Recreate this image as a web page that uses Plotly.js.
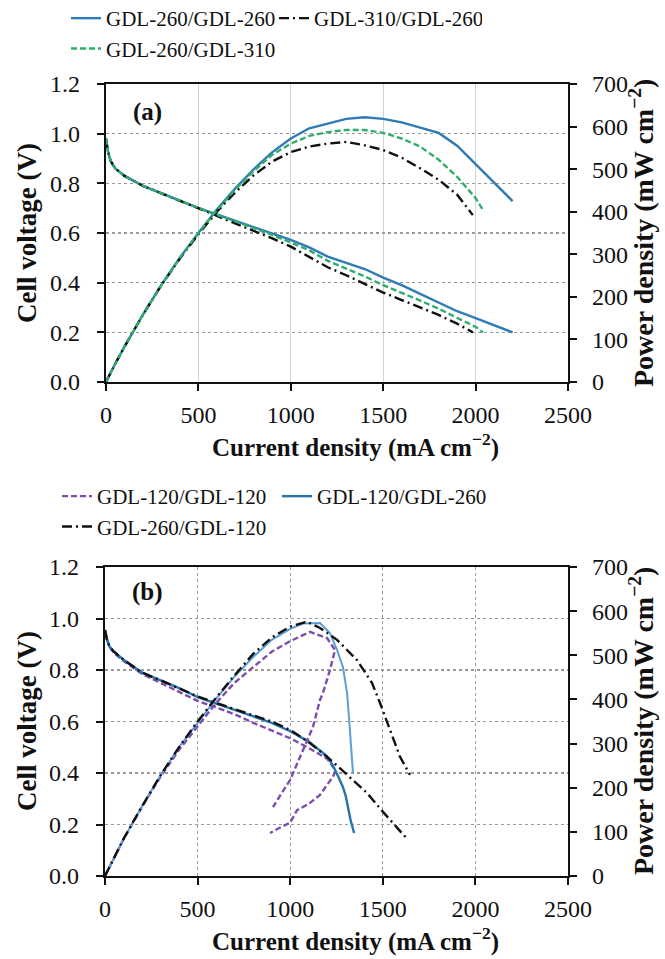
<!DOCTYPE html>
<html>
<head>
<meta charset="utf-8">
<script src="https://cdn.plot.ly/plotly-3.0.1.min.js"></script>
<style>
html,body{margin:0;padding:0;background:#fff;}
#chart{width:665px;height:959px;}
</style>
</head>
<body>
<div id="chart"></div>
<script>
// ---------- Panel (a) data ----------
const namesA = ['GDL-260/GDL-260', 'GDL-310/GDL-260', 'GDL-260/GDL-310'];
const xA1 = [0,10,25,50,100,200,300,400,500,600,700,800,900,1000,1100,1200,1300,1400,1500,1600,1700,1800,1900,2000,2100,2200];
const vA1 = [0.98,0.93,0.89,0.86,0.83,0.79,0.76,0.73,0.70,0.675,0.65,0.625,0.60,0.572,0.542,0.505,0.48,0.455,0.42,0.39,0.355,0.32,0.285,0.257,0.228,0.20];
const pA1 = [0,9,22,43,83,158,228,292,350,405,455,500,540,572,596,607,618,622,618,610,598,585,555,512,470,425];
const xA2 = [0,10,25,50,100,200,300,400,500,600,700,800,900,1000,1100,1200,1300,1400,1500,1600,1700,1800,1900,1985];
const vA2 = [0.98,0.93,0.89,0.86,0.83,0.79,0.76,0.73,0.70,0.67,0.64,0.61,0.578,0.545,0.505,0.462,0.43,0.395,0.36,0.33,0.30,0.27,0.235,0.20];
const pA2 = [0,9,22,43,83,158,228,290,347,400,446,486,518,540,553,560,564,556,545,527,502,475,440,392];
const xA3 = [0,10,25,50,100,200,300,400,500,600,700,800,900,1000,1100,1200,1300,1400,1500,1600,1700,1800,1900,2000,2040];
const vA3 = [0.98,0.93,0.89,0.86,0.83,0.79,0.76,0.73,0.70,0.673,0.647,0.62,0.592,0.562,0.53,0.488,0.458,0.425,0.39,0.36,0.328,0.295,0.26,0.222,0.20];
const pA3 = [0,9,22,43,83,158,228,292,350,404,452,496,534,560,578,587,592,592,585,572,553,522,482,432,404];

// ---------- Panel (b) data ----------
const namesB = ['GDL-120/GDL-120', 'GDL-120/GDL-260', 'GDL-260/GDL-120'];
const xB1 = [0,10,25,50,100,200,300,400,500,600,700,800,900,1000,1100,1200,1245,1231,1200,1161,1100,1037,999,950,891];
const vB1 = [0.955,0.92,0.89,0.865,0.835,0.785,0.75,0.715,0.68,0.655,0.628,0.595,0.565,0.535,0.497,0.455,0.41,0.385,0.355,0.315,0.28,0.256,0.206,0.19,0.167];
const xB1p = [0,100,200,300,400,500,600,700,800,900,1000,1107,1199,1242,1215,1177,1161,1123,1069,999,950,907];
const pB1 = [0,83,157,225,286,340,392,438,472,508,532,553,539,512,467,415,399,338,285,217,185,156];
const xB2 = [0,10,25,50,100,200,300,400,500,600,700,800,900,1000,1100,1200,1230,1260,1285,1300,1312,1325,1345];
const vB2 = [0.955,0.92,0.89,0.87,0.84,0.79,0.76,0.73,0.695,0.67,0.645,0.62,0.595,0.562,0.522,0.465,0.43,0.385,0.345,0.31,0.26,0.22,0.167];
const xB2p = [0,100,200,300,400,500,600,700,800,900,1000,1069,1161,1215,1253,1285,1307,1320,1330,1339];
const pB2 = [0,84,158,228,292,348,402,452,496,535,560,572,573,550,512,473,415,345,290,233];
const xB3 = [0,10,25,50,100,200,300,400,500,600,700,800,900,1000,1107,1231,1323,1415,1501,1577,1636];
const vB3 = [0.955,0.92,0.89,0.87,0.84,0.79,0.76,0.73,0.697,0.672,0.648,0.625,0.60,0.567,0.516,0.443,0.381,0.322,0.249,0.19,0.14];
const xB3p = [0,100,200,300,400,500,600,700,800,900,1000,1091,1161,1253,1361,1442,1485,1523,1593,1647];
const pB3 = [0,84,158,228,292,350,404,455,503,540,565,576,562,535,489,437,392,349,270,229];

const xTicks = [0,500,1000,1500,2000,2500];
const vTicks = [0,0.2,0.4,0.6,0.8,1.0,1.2];
const pTicks = [0,100,200,300,400,500,600,700];

// ---------- styles ----------
const BLUE = '#2f7bb5', GREEN = '#2fae6a', BLACK = '#111111', PURPLE = '#7d4dad', LBLUE = '#5b9fd6', DBLUE = '#2674ad';
const DASHDOT = '10px,4px,2px,4px';
const SERIF = '"Liberation Serif", "Times New Roman", serif';

function tr(x, y, name, color, dash, width, xa, ya, legend, show) {
  return {x: x, y: y, name: name, type: 'scatter', mode: 'lines',
    line: {color: color, dash: dash, width: width},
    xaxis: xa, yaxis: ya, legend: legend, showlegend: show, hoverinfo: 'skip'};
}

const data = [
  tr(xA1, vA1, namesA[0], BLUE, 'solid', 2.4, 'x', 'y', 'legend', true),
  tr(xA2, vA2, namesA[1], BLACK, DASHDOT, 2.4, 'x', 'y', 'legend', true),
  tr(xA3, vA3, namesA[2], GREEN, '6px,3px', 2.4, 'x', 'y', 'legend', true),
  tr(xA1, pA1, namesA[0], BLUE, 'solid', 2.4, 'x', 'y2', 'legend', false),
  tr(xA2, pA2, namesA[1], BLACK, DASHDOT, 2.4, 'x', 'y2', 'legend', false),
  tr(xA3, pA3, namesA[2], GREEN, '6px,3px', 2.4, 'x', 'y2', 'legend', false),

  tr(xB1, vB1, namesB[0], PURPLE, '6px,3px', 2.4, 'x2', 'y3', 'legend2', true),
  tr(xB2, vB2, namesB[1], DBLUE, 'solid', 2.4, 'x2', 'y3', 'legend2', true),
  tr(xB3, vB3, namesB[2], BLACK, DASHDOT, 2.4, 'x2', 'y3', 'legend2', true),
  tr(xB1p, pB1, namesB[0], PURPLE, '6px,3px', 2.4, 'x2', 'y4', 'legend2', false),
  tr(xB2p, pB2, namesB[1], LBLUE, 'solid', 2.0, 'x2', 'y4', 'legend2', false),
  tr(xB3p, pB3, namesB[2], BLACK, DASHDOT, 2.4, 'x2', 'y4', 'legend2', false)
];

const W = 665, H = 959, ML = 50, MR = 60;
const PW = W - ML - MR;
const fx = px => (px - ML) / PW;
const fy = py => 1 - py / H;

const tickFont = {family: SERIF, size: 24, color: '#111'};
const xTitle = '<b>Current density (mA cm<sup>−2</sup>)</b>';
const yTitleL = '<b>Cell voltage (V)</b>';
const yTitleR = '<b>Power density (mW cm<sup>−2</sup>)</b>';

function xAxis(domain, anchor, vgridDash, vgridColor) {
  return {domain: domain, anchor: anchor, range: [0, 2500], tickvals: xTicks,
    showline: true, linewidth: 2.2, linecolor: '#111', mirror: true,
    ticks: 'outside', ticklen: 7, tickwidth: 2, tickcolor: '#111', ticklabelstandoff: 3,
    showgrid: true, gridcolor: vgridColor, griddash: vgridDash, gridwidth: 1.4,
    zeroline: false, tickfont: tickFont};
}
function yLeft(domain, anchor) {
  return {domain: domain, anchor: anchor, range: [0, 1.2], tickvals: vTicks, tickformat: '.1f',
    showline: true, linewidth: 2.2, linecolor: '#111',
    ticks: 'outside', ticklen: 7, tickwidth: 2, tickcolor: '#111', ticklabelstandoff: 12,
    showgrid: true, gridcolor: '#9a9a9a', griddash: 'dot', gridwidth: 1.4,
    zeroline: false, tickfont: tickFont};
}
function yRight(overlay, anchor) {
  return {overlaying: overlay, anchor: anchor, side: 'right', range: [0, 700], tickvals: pTicks,
    showline: true, linewidth: 2.2, linecolor: '#111',
    ticks: 'outside', ticklen: 7, tickwidth: 2, tickcolor: '#111', ticklabelstandoff: 10,
    showgrid: false, zeroline: false, tickfont: tickFont};
}
function label(text, px, py, size, angle) {
  return {text: text, xref: 'paper', yref: 'paper', x: fx(px), y: fy(py), showarrow: false,
    textangle: angle || 0, font: {family: SERIF, size: size, color: '#111'},
    xanchor: 'center', yanchor: 'middle'};
}

const layout = {
  width: W, height: H,
  margin: {l: ML, r: MR, t: 0, b: 0, autoexpand: false},
  paper_bgcolor: '#fff', plot_bgcolor: '#fff',
  font: {family: SERIF, color: '#111'},
  xaxis: xAxis([fx(106), fx(568)], 'y', 'solid', '#d2d2d2'),
  yaxis: yLeft([fy(382), fy(84)], 'x'),
  yaxis2: yRight('y', 'x'),
  xaxis2: xAxis([fx(105), fx(568)], 'y3', 'dot', '#9a9a9a'),
  yaxis3: yLeft([fy(876), fy(567)], 'x2'),
  yaxis4: yRight('y3', 'x2'),
  legend: {orientation: 'h', x: fx(66), xanchor: 'left', y: fy(-2), yanchor: 'top',
    entrywidth: 163, entrywidthmode: 'pixels', bgcolor: 'rgba(0,0,0,0)', borderwidth: 0,
    font: {family: SERIF, size: 21, color: '#111'}, traceorder: 'normal'},
  legend2: {orientation: 'h', x: fx(57), xanchor: 'left', y: fy(476), yanchor: 'top',
    entrywidth: 175, entrywidthmode: 'pixels', bgcolor: 'rgba(0,0,0,0)', borderwidth: 0,
    font: {family: SERIF, size: 21, color: '#111'}, traceorder: 'normal'},
  annotations: [
    label('<b>(a)</b>', 147, 112, 25),
    label('<b>(b)</b>', 147, 592, 25),
    label(xTitle, 355, 445, 25),
    label(xTitle, 355, 939, 25),
    label(yTitleL, 27, 233, 27, -90),
    label(yTitleL, 27, 721, 27, -90),
    label(yTitleR, 641, 233, 28, -90),
    label(yTitleR, 641, 721, 28, -90)
  ],
  showlegend: true
};

Plotly.newPlot('chart', data, layout, {displayModeBar: false, staticPlot: true});
</script>
</body>
</html>
